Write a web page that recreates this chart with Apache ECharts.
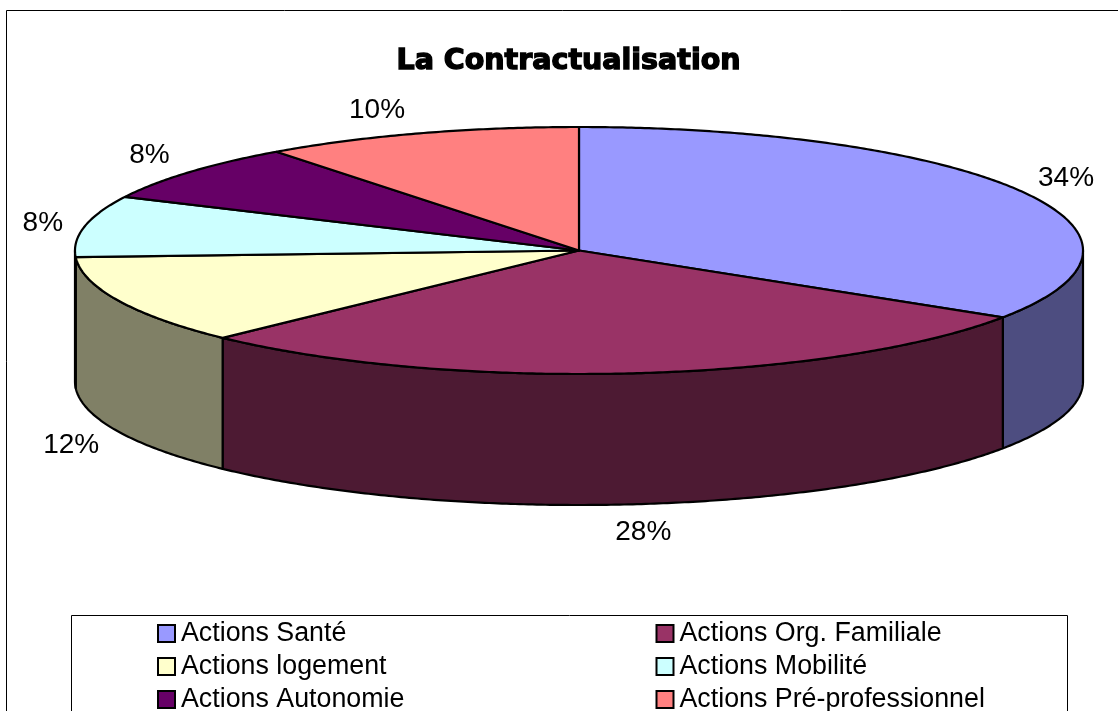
<!DOCTYPE html>
<html><head><meta charset="utf-8">
<style>html,body{margin:0;padding:0;background:#fff}#c{width:1118px;height:711px}</style>
<script src="https://cdn.jsdelivr.net/npm/echarts@6/dist/echarts.min.js"></script>
</head><body><div id="c"></div>
<script>
const categories = ['Actions Santé','Actions Org. Familiale','Actions logement','Actions Mobilité','Actions Autonomie','Actions Pré-professionnel'];
const values = [34.1, 28.4, 11.65, 8, 7.6, 10.25];
const topColors = ['#9999FF','#993366','#FFFFCC','#CCFFFF','#660066','#FF8080'];
const sideColors = ['#4D4D80','#4D1A33','#808066','#668080','#330033','#804040'];
const labelNudge = [[-1,0],[5,2],[0,3],[9,2],[0,0],[-26,2]];
const FONT = '"Liberation Sans", Arial, sans-serif';
const CX=579, CY=250.5, RX=504, RY=123.5, DEPTH=131, LRX=556, LRY=150;

const total = values.reduce((a,b)=>a+b,0);
function pt(deg, dy){ const r=deg*Math.PI/180; return [CX+RX*Math.sin(r), CY-RY*Math.cos(r)+(dy||0)]; }
function arc(a,b,dy){ const n=Math.max(2,Math.ceil(Math.abs(b-a))*2), out=[]; for(let i=0;i<=n;i++) out.push(pt(a+(b-a)*i/n,dy)); return out; }

function renderSlice(idx){
  return function(params, api){
    const before = values.slice(0,idx).reduce((a,b)=>a+b,0);
    const a0 = before/total*360, a1 = a0 + api.value(0)/total*360;
    const children = [];
    const sa=Math.max(a0,90), sb=Math.min(a1,270);
    const line = {stroke:'#000',lineWidth:2.2,lineJoin:'round'};
    if (sb>sa){
      children.push({type:'polygon',shape:{points:arc(sa,sb,0).concat(arc(sb,sa,DEPTH))},style:Object.assign({fill:sideColors[idx]},line)});
    }
    children.push({type:'polygon',shape:{points:[[CX,CY]].concat(arc(a0,a1,0))},style:Object.assign({fill:api.visual('color')},line)});
    const mid=(a0+a1)/2*Math.PI/180, c=Math.cos(mid);
    children.push({type:'text',x:CX+LRX*Math.sin(mid)+labelNudge[idx][0],y:CY-LRY*c+(c<0?DEPTH:0)+labelNudge[idx][1],z2:10,
      style:{text:Math.round(api.value(0)/total*100)+'%',fill:'#000',font:'28px '+FONT,align:'center',verticalAlign:'middle'}});
    return {type:'group',children};
  };
}

const legendBase = {orient:'vertical',height:200,itemWidth:17,itemHeight:17,itemGap:6,icon:'rect',selectedMode:false,
  itemStyle:{borderColor:'#000',borderWidth:2},padding:0,
  textStyle:{fontFamily:FONT,fontSize:26.8,lineHeight:20,color:'#000',padding:[0,0,0,1]}};

const chart = echarts.init(document.getElementById('c'),null,{renderer:'canvas'});
chart.setOption({
  animation:false,
  backgroundColor:'#fff',
  title:{text:'La Contractualisation',left:568.5,top:62,textAlign:'center',textVerticalAlign:'middle',padding:0,
    textStyle:{fontFamily:'"DejaVu Sans", sans-serif',fontSize:28.5,fontWeight:'bold',color:'#000',textBorderColor:'#000',textBorderWidth:1.4}},
  legend:[
    Object.assign({},legendBase,{left:157,top:620,data:categories.filter((_,i)=>i%2===0)}),
    Object.assign({},legendBase,{left:655.5,top:620,data:categories.filter((_,i)=>i%2===1)})
  ],
  graphic:[
    {type:'rect',z:-10,shape:{x:6.5,y:10.5,width:1120,height:720},style:{fill:'#fff',stroke:'#000',lineWidth:1}},
    {type:'rect',z:-9,shape:{x:71.5,y:615.5,width:996,height:110},style:{fill:'#fff',stroke:'#000',lineWidth:1}}
  ],
  series:categories.map((name,i)=>({
    type:'custom',name,coordinateSystem:'none',silent:true,
    itemStyle:{color:topColors[i]},
    renderItem:renderSlice(i),
    data:[[values[i]]]
  }))
});
</script></body></html>
